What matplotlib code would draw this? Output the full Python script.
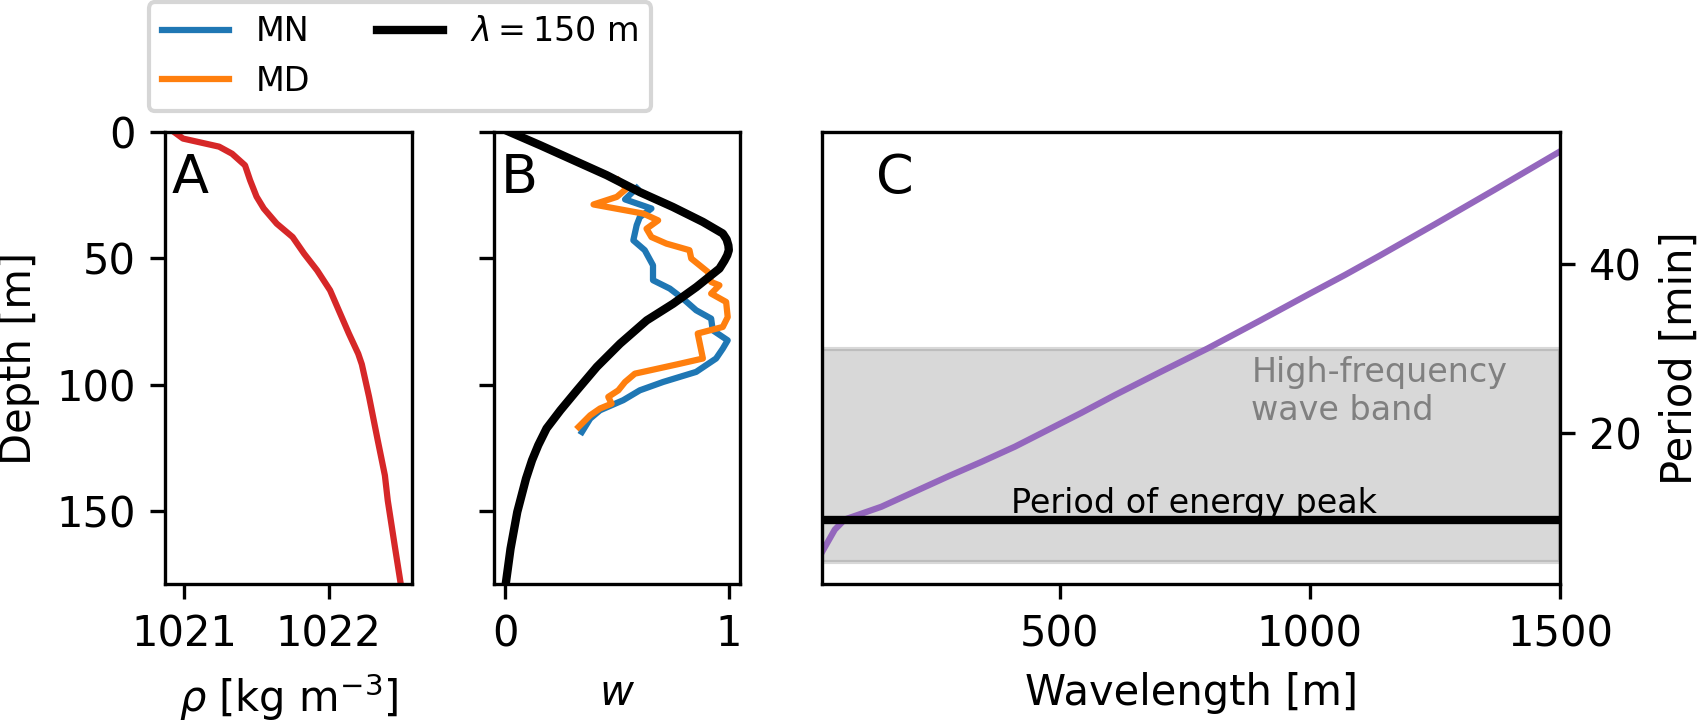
import matplotlib
matplotlib.use("Agg")
import matplotlib.pyplot as plt

# ---------------- data ----------------
# Panel A: density profile
rho_depth = [0, 2.6, 5.8, 8.6, 13.2, 19.1, 25.6, 30.3, 36.3, 41.6, 48.2, 54.8,
             62.7, 70.6, 79.8, 87.8, 92.0, 104.8, 122, 136, 146, 164.5, 179]
rho_vals = [1020.928, 1020.99, 1021.24, 1021.33, 1021.42, 1021.455, 1021.50,
            1021.55, 1021.64, 1021.75, 1021.83, 1021.92, 1022.01, 1022.07,
            1022.14, 1022.205, 1022.23, 1022.28, 1022.34, 1022.39, 1022.41,
            1022.46, 1022.50]

# Panel B: vertical structure
mode_depth = [0.0, 5.3, 11.2, 17.1, 23.8, 29.7, 35.6, 40.2, 42.5, 44.9, 46.8,
              48.8, 51.0, 54.1, 61.4, 68.0, 74.6, 83.8, 93.0, 102.3, 110.2,
              117.4, 124.0, 130.0, 137.3, 150.5, 165.0, 179.3]
mode_w = [0.02, 0.158, 0.306, 0.454, 0.602, 0.75, 0.884, 0.973, 0.99, 0.998,
          1.0, 0.993, 0.98, 0.958, 0.855, 0.751, 0.633, 0.514, 0.41, 0.321,
          0.247, 0.185, 0.148, 0.12, 0.093, 0.054, 0.024, 0.002]

mn_depth = [22.2, 26.7, 30.3, 33.7, 36.9, 42.9, 46.8, 52.8, 58.7, 62.0, 66.0,
            70.6, 73.9, 78.5, 82.5, 85.8, 89.7, 95.0, 99.0, 102.3, 106.2,
            108.2, 110.2, 113.5, 118.8]
mn_w = [0.588, 0.536, 0.654, 0.602, 0.588, 0.573, 0.624, 0.661, 0.661, 0.736,
        0.795, 0.854, 0.921, 0.928, 0.995, 0.973, 0.943, 0.854, 0.706, 0.602,
        0.528, 0.476, 0.424, 0.38, 0.343]

md_depth = [19.1, 22.4, 25.7, 28.7, 32.3, 35.0, 38.3, 41.6, 44.2, 46.8, 50.1,
            55.4, 59.4, 60.7, 64.0, 67.3, 73.3, 77.2, 79.8, 89.7, 92.0, 95.7,
            99.0, 102.3, 104.9, 107.6, 109.5, 112.2, 116.8]
md_w = [0.506, 0.543, 0.499, 0.395, 0.617, 0.684, 0.632, 0.654, 0.721, 0.824,
        0.832, 0.906, 0.921, 0.958, 0.921, 0.988, 0.995, 0.973, 0.861, 0.884,
        0.77, 0.58, 0.536, 0.506, 0.461, 0.476, 0.424, 0.38, 0.328]

# Panel C: dispersion relation
wavelength = [25, 50, 70, 143, 210, 277, 343, 410, 543, 610, 700, 795, 900,
              1000, 1070, 1140, 1250, 1370, 1500]
period = [6.0, 8.6, 9.8, 11.3, 13.1, 14.9, 16.6, 18.4, 22.4, 24.5, 27.2, 30.0,
          33.3, 36.5, 38.7, 41.0, 44.7, 48.8, 53.3]

band_low, band_high = 4.77, 30.0
peak_period = 9.68

depth_ticks = [0, 50, 100, 150]
rho_ticks = [1021, 1022]
w_ticks = [0, 1]
wl_ticks = [500, 1000, 1500]
period_ticks = [20, 40]

# ---------------- figure ----------------
W, H = 1699, 720
fig = plt.figure(figsize=(W / 300, H / 300), dpi=300)


def rect(x0, x1, y0, y1):
    return [x0 / W, 1 - y1 / H, (x1 - x0) / W, (y1 - y0) / H]


axA = fig.add_axes(rect(165, 412, 132, 584))
axB = fig.add_axes(rect(494, 740, 132, 584), sharey=axA)
axC = fig.add_axes(rect(822.3, 1560, 132, 584))

# Panel A
axA.plot(rho_vals, rho_depth, color="tab:red", lw=1.5)
axA.set_ylim(179, 0)
axA.set_xlim(1020.865, 1022.578)
axA.set_xticks(rho_ticks)
axA.set_yticks(depth_ticks)
axA.set_ylabel("Depth [m]")
axA.set_xlabel(r"$\rho$ [kg m$^{-3}$]")
axA.text(0.028, 0.865, "A", transform=axA.transAxes, fontsize=13,
         ha="left", va="baseline")

# Panel B
lmn, = axB.plot(mn_w, mn_depth, color="tab:blue", lw=1.5, label="MN")
lmd, = axB.plot(md_w, md_depth, color="tab:orange", lw=1.5, label="MD")
lmode, = axB.plot(mode_w, mode_depth, color="black", lw=2,
                  label=r"$\lambda = 150$ m")
axB.set_xlim(-0.05, 1.05)
axB.set_xticks(w_ticks)
axB.tick_params(labelleft=False)
axB.set_xlabel(r"$w$")
axB.text(0.028, 0.865, "B", transform=axB.transAxes, fontsize=13,
         ha="left", va="baseline")

# Panel C
axC.axhspan(band_low, band_high, color="gray", alpha=0.3)
axC.plot(wavelength, period, color="tab:purple", lw=1.5)
axC.axhline(peak_period, color="black", lw=2)
axC.set_xlim(25, 1500)
axC.set_ylim(2.17, 55.6)
axC.set_xticks(wl_ticks)
axC.set_yticks(period_ticks)
axC.yaxis.tick_right()
axC.yaxis.set_label_position("right")
axC.set_xlabel("Wavelength [m]")
axC.set_ylabel("Period [min]")
axC.text(0.073, 0.865, "C", transform=axC.transAxes, fontsize=13,
         ha="left", va="baseline")
axC.text(403, peak_period, "Period of energy peak", fontsize=8,
         ha="left", va="bottom")
axC.text(883, 29.1, "High-frequency\nwave band", fontsize=8, color="gray",
         ha="left", va="top")

fig.legend(handles=[lmn, lmd, lmode], ncol=2, loc="upper left",
           bbox_to_anchor=(148.7 / W, 1 - 2 / H), borderaxespad=0,
           fontsize=8)

fig.savefig("out.png", dpi=300)
